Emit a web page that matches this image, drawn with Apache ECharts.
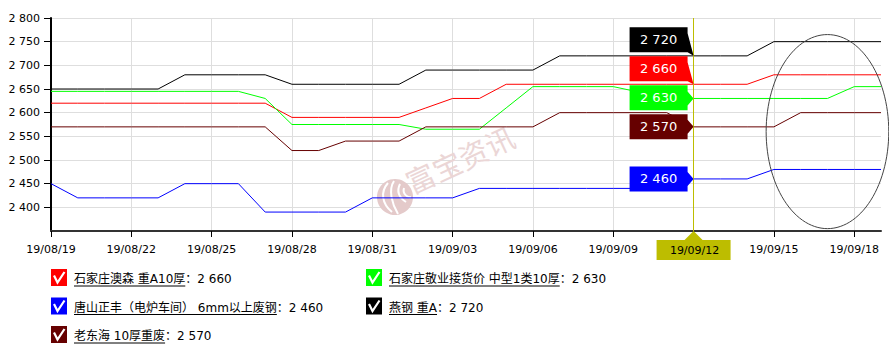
<!DOCTYPE html>
<html><head><meta charset="utf-8">
<script src="https://cdn.jsdelivr.net/npm/echarts@6/dist/echarts.min.js"></script>
<style>html,body{margin:0;padding:0;background:#fff}#c{width:889px;height:350px}</style>
</head><body><div id="c"></div>
<script>
// ---------- data ----------
const dates = ['19/08/19','19/08/20','19/08/21','19/08/22','19/08/23','19/08/24','19/08/25','19/08/26','19/08/27','19/08/28','19/08/29','19/08/30','19/08/31',
  '19/09/01','19/09/02','19/09/03','19/09/04','19/09/05','19/09/06','19/09/07','19/09/08','19/09/09','19/09/10','19/09/11','19/09/12','19/09/13','19/09/14','19/09/15','19/09/16','19/09/17','19/09/18','19/09/19'];
const seriesNames = ['石家庄澳森 重A10厚','石家庄敬业接货价 中型1类10厚','唐山正丰（电炉车间） 6mm以上废钢','燕钢 重A','老东海 10厚重废'];
const aosen    = [2620,2620,2620,2620,2620,2620,2620,2620,2620,2590,2590,2590,2590,2590,2610,2630,2630,2660,2660,2660,2660,2660,2660,2660,2660,2660,2660,2680,2680,2680,2680,2680];
const jingye   = [2645,2645,2645,2645,2645,2645,2645,2645,2630,2575,2575,2575,2575,2575,2565,2565,2565,2610,2655,2655,2655,2655,2643,2630,2630,2630,2630,2630,2630,2630,2655,2655];
const zhengfeng= [2450,2420,2420,2420,2420,2450,2450,2450,2390,2390,2390,2390,2420,2420,2420,2420,2440,2440,2440,2440,2440,2440,2440,2460,2460,2460,2460,2480,2480,2480,2480,2480];
const yangang  = [2650,2650,2650,2650,2650,2680,2680,2680,2680,2660,2660,2660,2660,2660,2690,2690,2690,2690,2690,2720,2720,2720,2720,2720,2720,2720,2720,2750,2750,2750,2750,2750];
const laodonghai=[2570,2570,2570,2570,2570,2570,2570,2570,2570,2520,2520,2540,2540,2540,2570,2570,2570,2570,2570,2600,2600,2600,2600,2600,2570,2570,2570,2570,2600,2600,2600,2600];
const seriesData = [aosen, jingye, zhengfeng, yangang, laodonghai];
const yMin = 2350, yMax = 2800, yStep = 50;
const selectedDate = '19/09/12';
const watermarkText = '富宝资讯';
// annotation ellipse, in data units: centre [dayIndex, value], radii [days, value]
const ellipseCenter = [29, 2560];
const ellipseRadii = [2.29, 205];

// ---------- styles ----------
const colors = ['#ff0000','#00ff00','#0000ff','#000000','#660000'];
const FONT = '"DejaVu Sans", "Noto Sans CJK SC", sans-serif';
const fmt = v => String(v).replace(/\B(?=(\d{3})+(?!\d))/g, ' ');
const every3 = idx => idx % 3 === 0;

const chart = echarts.init(document.getElementById('c'), null, {renderer: 'svg'});
const sel = dates.indexOf(selectedDate);

chart.setOption({
  animation: false,
  grid: {left: 51, top: 18, right: 8, bottom: 119, containLabel: false},
  xAxis: {
    type: 'category', data: dates, boundaryGap: false,
    axisLine: {lineStyle: {color: '#333', width: 2}},
    axisTick: {interval: every3, length: 6, lineStyle: {color: '#000'}},
    axisLabel: {interval: every3, margin: 13, color: '#000', fontFamily: FONT, fontSize: 11},
    splitLine: {show: true, interval: every3, lineStyle: {color: '#dedede', width: 1}}
  },
  yAxis: {
    type: 'value', min: yMin, max: yMax, interval: yStep,
    axisLine: {show: true, lineStyle: {color: '#000', width: 2}},
    axisTick: {show: true, length: 7, lineStyle: {color: '#000'}},
    axisLabel: {showMinLabel: false, margin: 11, color: '#000', fontFamily: FONT, fontSize: 11, formatter: fmt},
    splitLine: {show: true, lineStyle: {color: '#dedede', width: 1}}
  },
  series: seriesData.map((d, i) => ({
    name: seriesNames[i], type: 'line', data: d, symbol: 'none',
    lineStyle: {color: colors[i], width: 1}, itemStyle: {color: colors[i]},
    z: 3,
    markLine: i === 0 ? {
      silent: true, symbol: 'none', label: {show: false},
      lineStyle: {color: '#bdbd00', type: 'solid', width: 1},
      data: [{xAxis: selectedDate}]
    } : undefined
  }))
});

// ---------- overlay graphics computed through the chart's scales ----------
const toPx = (x, y) => chart.convertToPixel({xAxisIndex: 0, yAxisIndex: 0}, [x, y]);
const g = [];

// watermark
const wmCenter = [395, 197];
g.push({type: 'circle', silent: true, z: 1, shape: {cx: wmCenter[0], cy: wmCenter[1], r: 18}, style: {fill: '#e4caca'}});
[[388,183,392,212,380,192,382,204],[394,181,398,214,388,190,392,204],[400,184,406,202,396,192,400,198],[404,188,411,197,402,194,408,198]].forEach(c => {
  g.push({type: 'bezierCurve', silent: true, z: 1, shape: {x1: c[0], y1: c[1], x2: c[2], y2: c[3], cpx1: c[4], cpy1: c[5], cpx2: c[6], cpy2: c[7]},
    style: {stroke: '#ffffff', lineWidth: 2, fill: null}});
});
g.push({type: 'text', silent: true, z: 1, x: 413, y: 196, rotation: 25 * Math.PI / 180,
  style: {text: watermarkText, font: '29px "Noto Sans CJK SC"', fill: '#ebd6d6', align: 'left', verticalAlign: 'bottom', textAlign: 'left', textVerticalAlign: 'bottom'}});

// ellipse annotation (pixels per day measured from two whole categories)
const p0 = toPx(0, ellipseCenter[1]), p1 = toPx(1, ellipseCenter[1]);
const dayPx = p1[0] - p0[0];
const ec = toPx(ellipseCenter[0], ellipseCenter[1]);
const ey = toPx(ellipseCenter[0], ellipseCenter[1] + ellipseRadii[1]);
const erx = ellipseRadii[0] * dayPx, ery = ec[1] - ey[1];
const ePts = [];
for (let k = 0; k < 120; k++) {
  const t = k / 120 * Math.PI * 2;
  ePts.push([ec[0] + erx * Math.cos(t), ec[1] + ery * Math.sin(t)]);
}
g.push({type: 'polygon', silent: true, z: 10, shape: {points: ePts}, style: {fill: null, stroke: '#444', lineWidth: 1}});

// value flags at the selected date
const items = seriesData.map((d, i) => {
  const p = toPx(sel, d[sel]);
  return {i, v: d[sel], tipX: p[0], tipY: p[1]};
}).sort((a, b) => b.tipY - a.tipY);
let prev = Infinity;
const BH = 25, BW = 58, GAP = 29;
items.forEach(it => {
  const c = Math.min(it.tipY, prev - GAP);
  prev = c;
  const top = c - BH / 2, bot = c + BH / 2;
  const R = it.tipX - 6, L = R - BW;
  let a1, a2;
  if (it.tipY > bot - 7) { a1 = top + 6; a2 = bot; }
  else if (it.tipY < top + 7) { a1 = top; a2 = bot - 6; }
  else { a1 = it.tipY - 7; a2 = it.tipY + 7; }
  g.push({type: 'polygon', silent: true, z: 20, shape: {points: [[L, top], [R, top], [R, a1], [it.tipX, it.tipY], [R, a2], [R, bot], [L, bot]]},
    style: {fill: colors[it.i]}});
  g.push({type: 'text', silent: true, z: 21, x: (L + R) / 2, y: c,
    style: {text: fmt(it.v), font: '13px "DejaVu Sans"', fill: '#fff', align: 'center', verticalAlign: 'middle', textAlign: 'center', textVerticalAlign: 'middle'}});
});

// axis pointer label
const base = toPx(sel, yMin);
g.push({type: 'polygon', silent: true, z: 20, shape: {points: [[base[0], base[1]], [base[0] - 9, base[1] + 9], [base[0] + 9, base[1] + 9]]}, style: {fill: '#bdbd00'}});
g.push({type: 'rect', silent: true, z: 20, shape: {x: base[0] - 37, y: base[1] + 9, width: 74, height: 20}, style: {fill: '#bdbd00'}});
g.push({type: 'text', silent: true, z: 21, x: base[0] + 1, y: base[1] + 19,
  style: {text: selectedDate, font: '11px "DejaVu Sans"', fill: '#000', align: 'center', verticalAlign: 'middle', textAlign: 'center', textVerticalAlign: 'middle'}});

// legend (checkbox icons, underlined names, value at selected date)
const ctx = document.createElement('canvas').getContext('2d');
const LFONT = '12px ' + FONT;
ctx.font = LFONT;
const legendCols = [51, 366];
const legendRows = [277.5, 306, 334.5];
seriesNames.forEach((name, i) => {
  const col = legendCols[i % 2], row = legendRows[Math.floor(i / 2)];
  g.push({type: 'rect', silent: true, shape: {x: col, y: row - 8.5, width: 16, height: 17}, style: {fill: colors[i]}});
  g.push({type: 'polyline', silent: true, shape: {points: [[col + 3, row - 2], [col + 6.5, row + 5], [col + 13.5, row - 5.5]]},
    style: {stroke: '#fff', lineWidth: 2.2, fill: null}});
  const tx = col + 23;
  const w = ctx.measureText(name).width;
  g.push({type: 'text', silent: true, x: tx, y: row + 1.5,
    style: {text: name, font: LFONT, fill: '#000', align: 'left', verticalAlign: 'middle', textAlign: 'left', textVerticalAlign: 'middle'}});
  g.push({type: 'line', silent: true, shape: {x1: tx, y1: row + 8.5, x2: tx + w, y2: row + 8.5}, style: {stroke: '#000', lineWidth: 1}});
  g.push({type: 'text', silent: true, x: tx + w, y: row + 1.5,
    style: {text: '：' + fmt(seriesData[i][sel]), font: LFONT, fill: '#000', align: 'left', verticalAlign: 'middle', textAlign: 'left', textVerticalAlign: 'middle'}});
});

chart.setOption({graphic: {elements: g}});
</script></body></html>
